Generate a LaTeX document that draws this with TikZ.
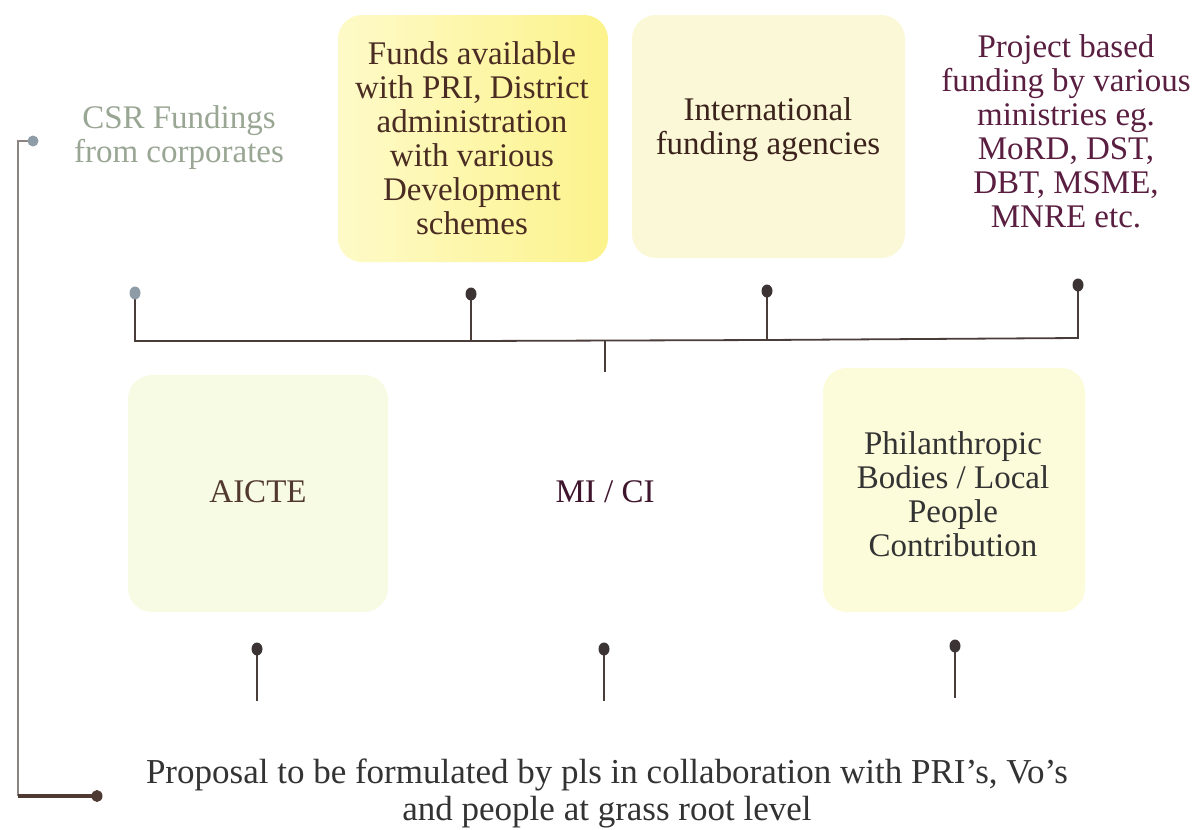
\documentclass[tikz,border=0pt]{standalone}
\usepackage{fontspec}
\setmainfont{Liberation Serif}
\usetikzlibrary{shapes.geometric}
\definecolor{csrcol}{HTML}{9AA694}
\definecolor{brn}{HTML}{4A2C22}
\definecolor{purp}{HTML}{5A1E40}
\definecolor{dotcol}{HTML}{3C3434}
\definecolor{dotgray}{HTML}{8E9CA8}
\definecolor{linecol}{HTML}{4A3C38}
\definecolor{boxA}{HTML}{FEFAC8}
\definecolor{boxB}{HTML}{FCF38C}
\definecolor{boxC}{HTML}{FBF8D8}
\definecolor{boxD}{HTML}{F8FBE4}
\definecolor{boxE}{HTML}{FCFBDA}
\definecolor{leftgray}{HTML}{8C8480}
\definecolor{leftbrn}{HTML}{4E3A32}
\tikzset{
  txt/.style={align=center, font=\fontsize{33}{34}\selectfont, inner sep=0pt},
  rbox/.style={rounded corners=24pt, draw=none},
  pin/.style={ellipse, inner sep=0pt, minimum width=11pt, minimum height=13pt, fill=dotcol, draw=none},
  conn/.style={draw=linecol, line width=1.8pt},
}
\begin{document}
\begin{tikzpicture}[x=1pt,y=-1pt]
\useasboundingbox[fill=white] (0,0) rectangle (1200,830);
% boxes
\node[rbox, minimum width=270pt, minimum height=247pt, left color=boxA, right color=boxB] (boxfunds) at (473,138.5) {};
\node[rbox, minimum width=273pt, minimum height=243pt, fill=boxC] (boxintl) at (768.5,136.5) {};
\node[rbox, minimum width=260pt, minimum height=237pt, fill=boxD] (boxaicte) at (258,493.5) {};
\node[rbox, minimum width=262pt, minimum height=244pt, fill=boxE] (boxphil) at (954,490) {};
% connectors (drawn below dots)
\coordinate (b1) at (135,341);
\coordinate (b2) at (471,341);
\coordinate (b3) at (767,340);
\coordinate (b4) at (1078,338);
\coordinate (bm) at (605,341);
\coordinate (stem) at (605,372);
\coordinate (f1) at (257,701);
\coordinate (f2) at (604,701);
\coordinate (f3) at (955,698);
\coordinate (c1) at (18,141);
\coordinate (c2) at (18,796);
% texts
\node[txt, text=csrcol] (csr) at (179,138) {CSR Fundings\\from corporates};
\node[txt, text=brn] (funds) at (472,138) {Funds available\\with PRI, District\\administration\\with various\\Development\\schemes};
\node[txt, text=brn!80!black] (intl) at (768,130) {International\\funding agencies};
\node[txt, text=purp] (proj) at (1066,131) {Project based\\funding by various\\ministries eg.\\MoRD, DST,\\DBT, MSME,\\MNRE etc.};
\node[txt, text=brn!85!gray] (aicte) at (258,492) {AICTE};
\node[txt, text=purp!70!black] (mici) at (605,492) {MI / CI};
\node[txt, text=black!80] (phil) at (953,494) {Philanthropic\\Bodies / Local\\People\\Contribution};
\node[txt, text=black!80, font=\fontsize{35}{37}\selectfont] (prop) at (607,793) {Proposal to be formulated by pls in collaboration with PRI's, Vo's\\and people at grass root level};
% pins (coordinates for their centres)
\coordinate (p1) at (135,293);
\coordinate (p2) at (471,294);
\coordinate (p3) at (767,291);
\coordinate (p4) at (1078,285);
\coordinate (q1) at (257,649);
\coordinate (q2) at (604,649);
\coordinate (q3) at (955,646);
\coordinate (lt0) at (33,141);
\coordinate (lb0) at (97,796);
\draw[conn] (p1) -- (b1) -- (b2) -- (b3) -- (b4) -- (p4);
\draw[conn] (p2) -- (b2);
\draw[conn] (p3) -- (b3);
\draw[conn] (bm) -- (stem);
\draw[conn] (q1) -- (f1);
\draw[conn] (q2) -- (f2);
\draw[conn] (q3) -- (f3);
\draw[draw=leftgray, line width=1.8pt] (lt0) -- (c1) -- (c2);
\draw[draw=leftbrn, line width=3.2pt] (c2) -- (lb0);
\node[pin, fill=dotgray] (d1) at (p1) {};
\node[pin] (d2) at (p2) {};
\node[pin] (d3) at (p3) {};
\node[pin] (d4) at (p4) {};
\node[pin] (e1) at (q1) {};
\node[pin] (e2) at (q2) {};
\node[pin] (e3) at (q3) {};
\node[pin, fill=dotgray, minimum width=11pt, minimum height=11pt] (lt) at (lt0) {};
\node[pin, fill=leftbrn, minimum width=11pt, minimum height=12pt] (lb) at (lb0) {};
\end{tikzpicture}
\end{document}
